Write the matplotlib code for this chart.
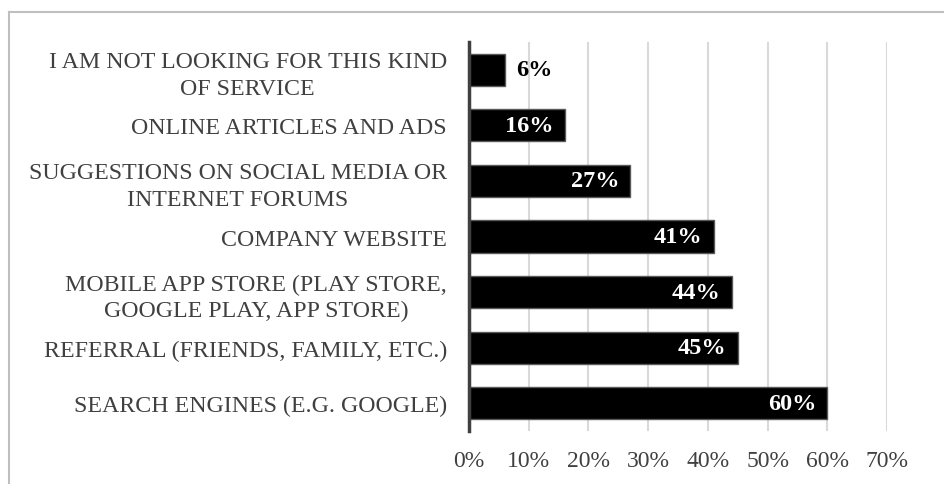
import matplotlib.pyplot as plt
from matplotlib.lines import Line2D

# survey answers, top to bottom
categories = [
    'I AM NOT LOOKING FOR THIS KIND\nOF SERVICE',
    'ONLINE ARTICLES AND ADS',
    'SUGGESTIONS ON SOCIAL MEDIA OR\nINTERNET FORUMS',
    'COMPANY WEBSITE',
    'MOBILE APP STORE (PLAY STORE,\nGOOGLE PLAY, APP STORE)',
    'REFERRAL (FRIENDS, FAMILY, ETC.)',
    'SEARCH ENGINES (E.G. GOOGLE)',
]
shares = [6, 16, 27, 41, 44, 45, 60]
xticks = [0, 10, 20, 30, 40, 50, 60, 70]

plt.rcParams['font.family'] = ['Liberation Serif', 'DejaVu Serif']

fig = plt.figure(figsize=(9.44, 4.85), dpi=100)
W, H = 944, 485
ax = fig.add_axes([469 / W, 1 - 432 / H, (887 - 469) / W, (432 - 43) / H])

ypos = list(range(len(categories)))
ax.barh(ypos, shares, height=0.58, color='black', edgecolor='#595959',
        linewidth=1.0, zorder=3)

ax.set_ylim(len(categories) - 0.5, -0.5)
ax.set_xlim(0, 70)
ax.set_yticks(ypos)
ax.set_yticklabels(categories, fontsize=17.2, color='#404040')
for lab in ax.get_yticklabels():
    lab.set_multialignment('center')
    lab.set_linespacing(1.35)
ax.set_xticks(xticks)
ax.set_xticklabels([f'{v}%' for v in xticks], fontsize=17, color='#404040')
ax.tick_params(axis='y', length=0, pad=16)
ax.tick_params(axis='x', length=0, pad=14)

ax.grid(axis='x', color='#d9d9d9', linewidth=1.5, zorder=0)
for side in ['top', 'right', 'bottom']:
    ax.spines[side].set_visible(False)
ax.spines['left'].set_color('#404040')
ax.spines['left'].set_linewidth(2.5)
ax.spines['left'].set_zorder(4)

# value labels: inside the bar end, outside for the short one
for y, v in zip(ypos, shares):
    if v < 10:
        ax.annotate(f'{v}%', (v, y), xytext=(8, 0), textcoords='offset points',
                    ha='left', va='center', fontsize=17.5, fontweight='bold',
                    color='black')
    else:
        ax.annotate(f'{v}%', (v, y), xytext=(-8, 0), textcoords='offset points',
                    ha='right', va='center', fontsize=17.5, fontweight='bold',
                    color='white', zorder=5)

# chart frame
fig.add_artist(Line2D([9 / W, 1], [1 - 13 / H, 1 - 13 / H],
                      transform=fig.transFigure, color='#bfbfbf', linewidth=1.5))
fig.add_artist(Line2D([9 / W, 9 / W], [0, 1 - 13 / H],
                      transform=fig.transFigure, color='#bfbfbf', linewidth=1.5))

fig.savefig('out.png', dpi=100)
